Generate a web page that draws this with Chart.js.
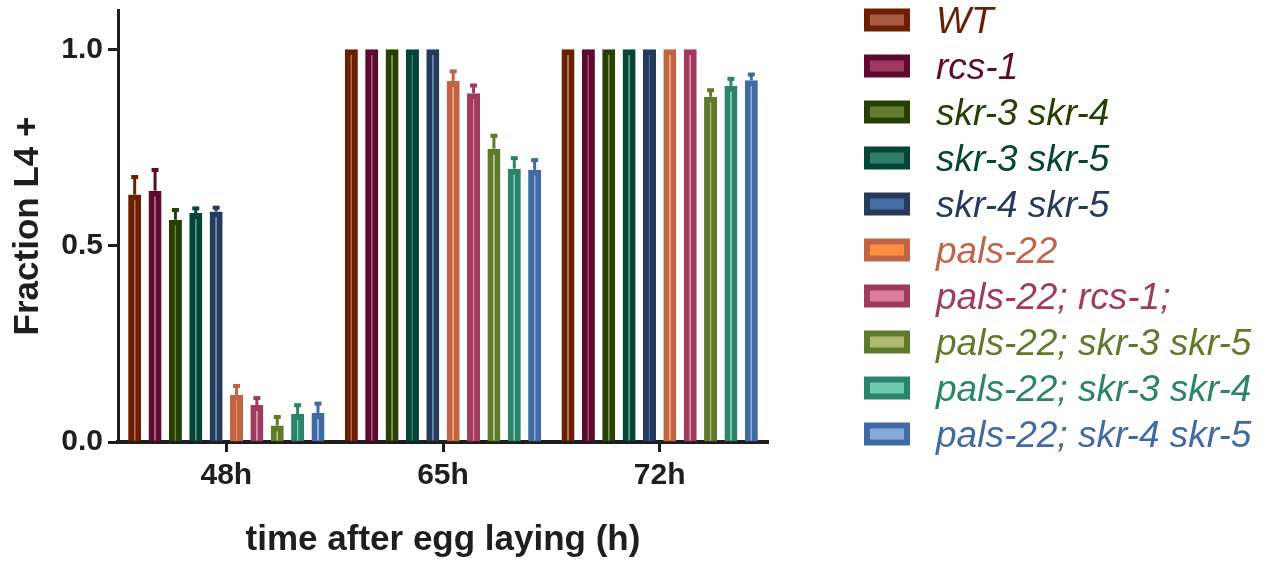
<!DOCTYPE html>
<html><head><meta charset="utf-8">
<script src="https://cdn.jsdelivr.net/npm/chart.js@4"></script>
<style>html,body{margin:0;padding:0;background:#fff}#wrap{width:1266px;height:563px}</style>
</head><body><div id="wrap"><canvas id="c" width="1266" height="563"></canvas></div>
<script>
// ---- data ----
const categories = ['48h', '65h', '72h'];
const seriesNames = ['WT', 'rcs-1', 'skr-3 skr-4', 'skr-3 skr-5', 'skr-4 skr-5',
  'pals-22', 'pals-22; rcs-1;', 'pals-22; skr-3 skr-5', 'pals-22; skr-3 skr-4', 'pals-22; skr-4 skr-5'];
const wtValues = [0.63, 1, 1];            const wtErr = [0.046, 0, 0];
const rcs1Values = [0.64, 1, 1];          const rcs1Err = [0.054, 0, 0];
const skr34Values = [0.566, 1, 1];        const skr34Err = [0.026, 0, 0];
const skr35Values = [0.583, 1, 1];        const skr35Err = [0.013, 0, 0];
const skr45Values = [0.587, 1, 1];        const skr45Err = [0.011, 0, 0];
const palsValues = [0.12, 0.919, 1];      const palsErr = [0.024, 0.026, 0];
const palsRcs1Values = [0.094, 0.888, 1]; const palsRcs1Err = [0.019, 0.021, 0];
const palsSkr35Values = [0.042, 0.747, 0.879]; const palsSkr35Err = [0.023, 0.034, 0.018];
const palsSkr34Values = [0.071, 0.696, 0.907]; const palsSkr34Err = [0.024, 0.028, 0.019];
const palsSkr45Values = [0.074, 0.693, 0.921]; const palsSkr45Err = [0.025, 0.026, 0.016];
const yTickValues = [0, 0.5, 1.0];

const borderColors = ['#6B1F00', '#5D0A2F', '#254000', '#054535', '#263B5C',
  '#BF6446', '#A03A5E', '#5E7A2A', '#2B836A', '#4169A2'];
const fillColors = ['#A85C40', '#9E3A5F', '#607D2E', '#2F8068', '#456CA3',
  '#FF8F40', '#DA7C9A', '#AEBA6E', '#6DCAB1', '#85A9D9'];

const allValues = [wtValues, rcs1Values, skr34Values, skr35Values, skr45Values,
  palsValues, palsRcs1Values, palsSkr35Values, palsSkr34Values, palsSkr45Values];
const allErrors = [wtErr, rcs1Err, skr34Err, skr35Err, skr45Err,
  palsErr, palsRcs1Err, palsSkr35Err, palsSkr34Err, palsSkr45Err];

const FONT = '"Liberation Sans", Arial, Helvetica, sans-serif';
Chart.defaults.font.family = FONT;
const AX = '#1e1e1e';

const datasets = seriesNames.map((name, i) => ({
  label: name,
  data: allValues[i],
  errors: allErrors[i],
  backgroundColor: fillColors[i],
  borderColor: borderColors[i],
  borderWidth: 6,
  borderSkipped: 'start',
  categoryPercentage: 0.94,
  barPercentage: 0.64
}));

const errorBarPlugin = {
  id: 'errorBars',
  afterDatasetsDraw(chart) {
    const ctx = chart.ctx;
    const ys = chart.scales.y;
    chart.data.datasets.forEach((ds, di) => {
      const meta = chart.getDatasetMeta(di);
      meta.data.forEach((bar, i) => {
        const e = ds.errors[i];
        if (!e) return;
        const top = ys.getPixelForValue(ds.data[i] + e);
        ctx.save();
        ctx.fillStyle = ds.borderColor;
        ctx.fillRect(bar.x - 1.5, top, 3, bar.y - top);
        ctx.fillRect(bar.x - 3.5, top - 1.5, 7, 4);
        ctx.restore();
      });
    });
  }
};

const sideLegendPlugin = {
  id: 'sideLegend',
  afterDraw(chart) {
    const ctx = chart.ctx;
    const left = chart.chartArea.right + 96;
    ctx.save();
    chart.data.datasets.forEach((ds, i) => {
      const cy = 20 + 46 * i;
      ctx.fillStyle = ds.borderColor;
      ctx.fillRect(left, cy - 11.5, 46, 23);
      ctx.fillStyle = ds.backgroundColor;
      ctx.fillRect(left + 6, cy - 5.5, 34, 11);
      ctx.font = 'italic 37px ' + FONT;
      ctx.textAlign = 'left';
      ctx.textBaseline = 'alphabetic';
      ctx.fillStyle = ds.borderColor;
      ctx.fillText(ds.label, left + 72, cy + 13);
    });
    ctx.restore();
  }
};

new Chart(document.getElementById('c'), {
  type: 'bar',
  data: { labels: categories, datasets },
  options: {
    responsive: false,
    animation: false,
    devicePixelRatio: 1,
    layout: { padding: { top: 10, right: 498, left: 0, bottom: 0 } },
    plugins: { legend: { display: false }, tooltip: { enabled: false } },
    scales: {
      x: {
        z: 1,
        grid: { display: true, offset: false, drawOnChartArea: false, drawTicks: true,
          tickLength: 10, tickWidth: 3, tickColor: AX },
        border: { display: true, width: 4, color: AX },
        ticks: { color: AX, font: { size: 30, weight: 'bold' }, padding: 6, maxRotation: 0 },
        title: { display: true, text: 'time after egg laying (h)', color: AX,
          font: { size: 35, weight: 'bold' }, padding: { top: 0, bottom: 2 } },
        afterFit(s) { s.height = 121; s.paddingLeft = 0; s.paddingRight = 0; }
      },
      y: {
        z: 1,
        min: 0, max: 1.1,
        grid: { display: true, drawOnChartArea: false, drawTicks: true,
          tickLength: 10, tickWidth: 3, tickColor: AX },
        border: { display: true, width: 3, color: AX },
        ticks: { color: AX, font: { size: 30, weight: 'bold' }, padding: 5,
          includeBounds: false, stepSize: 0.5,
          callback: v => v.toFixed(1) },
        afterBuildTicks(s) { s.ticks = yTickValues.map(v => ({ value: v })); },
        title: { display: true, text: 'Fraction L4 +', color: AX,
          font: { size: 35, weight: 'bold' }, padding: { top: 7, bottom: 0 } },
        afterFit(s) { s.width = 118; s.paddingTop = 0; s.paddingBottom = 0; }
      }
    }
  },
  plugins: [errorBarPlugin, sideLegendPlugin]
});
</script>
</body></html>
